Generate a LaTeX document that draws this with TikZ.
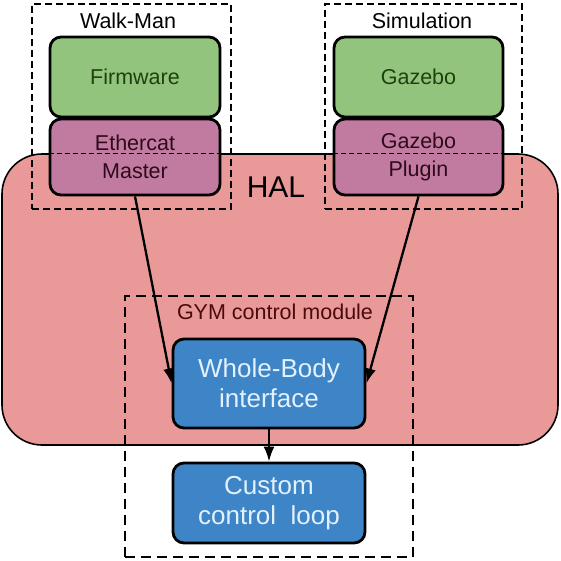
\documentclass[tikz,border=0pt]{standalone}
\usepackage{fontspec}
\setmainfont{Liberation Sans}
\usetikzlibrary{arrows.meta}
\definecolor{firmgreen}{HTML}{93C47D}
\definecolor{halpurple}{HTML}{C27BA0}
\definecolor{halred}{HTML}{EA9999}
\definecolor{gymblue}{HTML}{3D85C6}
\definecolor{greentext}{HTML}{1F400F}
\definecolor{purpletext}{HTML}{2E0A1C}
\definecolor{bluetext}{HTML}{E2F0FF}
\definecolor{gymtext}{HTML}{4A0A0A}
\tikzset{
  layer/.style={draw=black, line width=2.8pt, rounded corners=11pt, align=center,
    font=\fontsize{21.5}{28}\selectfont, inner sep=0pt},
  lowlayer/.style={layer, fill=firmgreen, text=greentext, minimum width=170, minimum height=80},
  halayer/.style={layer, fill=halpurple, text=purpletext, minimum width=170, minimum height=76},
  gymlayer/.style={layer, fill=gymblue, text=bluetext, minimum width=192,
    font=\fontsize{26}{30}\selectfont},
  groupbox/.style={draw=black, line width=1.5pt, dash pattern=on 7pt off 4pt, inner sep=0pt},
  grouplabel/.style={font=\fontsize{21.5}{24}\selectfont, inner sep=0pt},
  link/.style={line width=2.3pt, -{Latex[length=15pt,width=11pt]}}
}
\begin{document}
\begin{tikzpicture}[x=1pt, y=-1pt]
    \useasboundingbox (0,0) rectangle (561,560);
    % hardware abstraction layer
    \node[draw=black, line width=1.6pt, fill=halred, rounded corners=40pt,
        minimum width=556, minimum height=291, inner sep=0pt] (hal) at (280,299.5) {};
    \node[font=\fontsize{30}{32}\selectfont, inner sep=0pt] (hallabel) at (276,187) {HAL};

    % robot side
    \node[groupbox, minimum width=199, minimum height=205] (walkman) at (131.5,106.5) {};
    \node[grouplabel] (walklabel) at (128,21) {Walk-Man};
    \node[lowlayer] (firmware) at (135,77) {Firmware};
    \node[halayer] (ethercat) at (135,157) {Ethercat\\Master};

    % simulation side
    \node[groupbox, minimum width=197, minimum height=205] (simulation) at (423.5,106.5) {};
    \node[grouplabel] (simlabel) at (422,21) {Simulation};
    \node[lowlayer, minimum width=169] (gazebo) at (418.5,77) {Gazebo};
    \node[halayer, minimum width=169] (plugin) at (418.5,157) {Gazebo\\Plugin};

    % HAL border seen through the boxes
    \draw[line width=1.2pt, dash pattern=on 5pt off 3pt] (ethercat.west |- hal.north) -- (ethercat.east |- hal.north);
    \draw[line width=1.2pt, dash pattern=on 5pt off 3pt] (plugin.west |- hal.north) -- (plugin.east |- hal.north);

    % control module
    \node[groupbox, line width=2.4pt, dash pattern=on 10pt off 6pt,
        minimum width=288, minimum height=261] (gym) at (269,426.5) {};
    \node[grouplabel, text=gymtext] (gymlabel) at (275,312) {GYM control module};
    \node[gymlayer, minimum height=89] (wholebody) at (269,383.5) {Whole-Body\\interface};
    \node[gymlayer, minimum height=80] (custom) at (269,503) {Custom\\control\ \ loop};

    \draw[link] (ethercat.south) -- (wholebody.west);
    \draw[link] (plugin.south) -- (wholebody.east);
    \draw[link] (wholebody.south) -- (custom.north);
\end{tikzpicture}
\end{document}
